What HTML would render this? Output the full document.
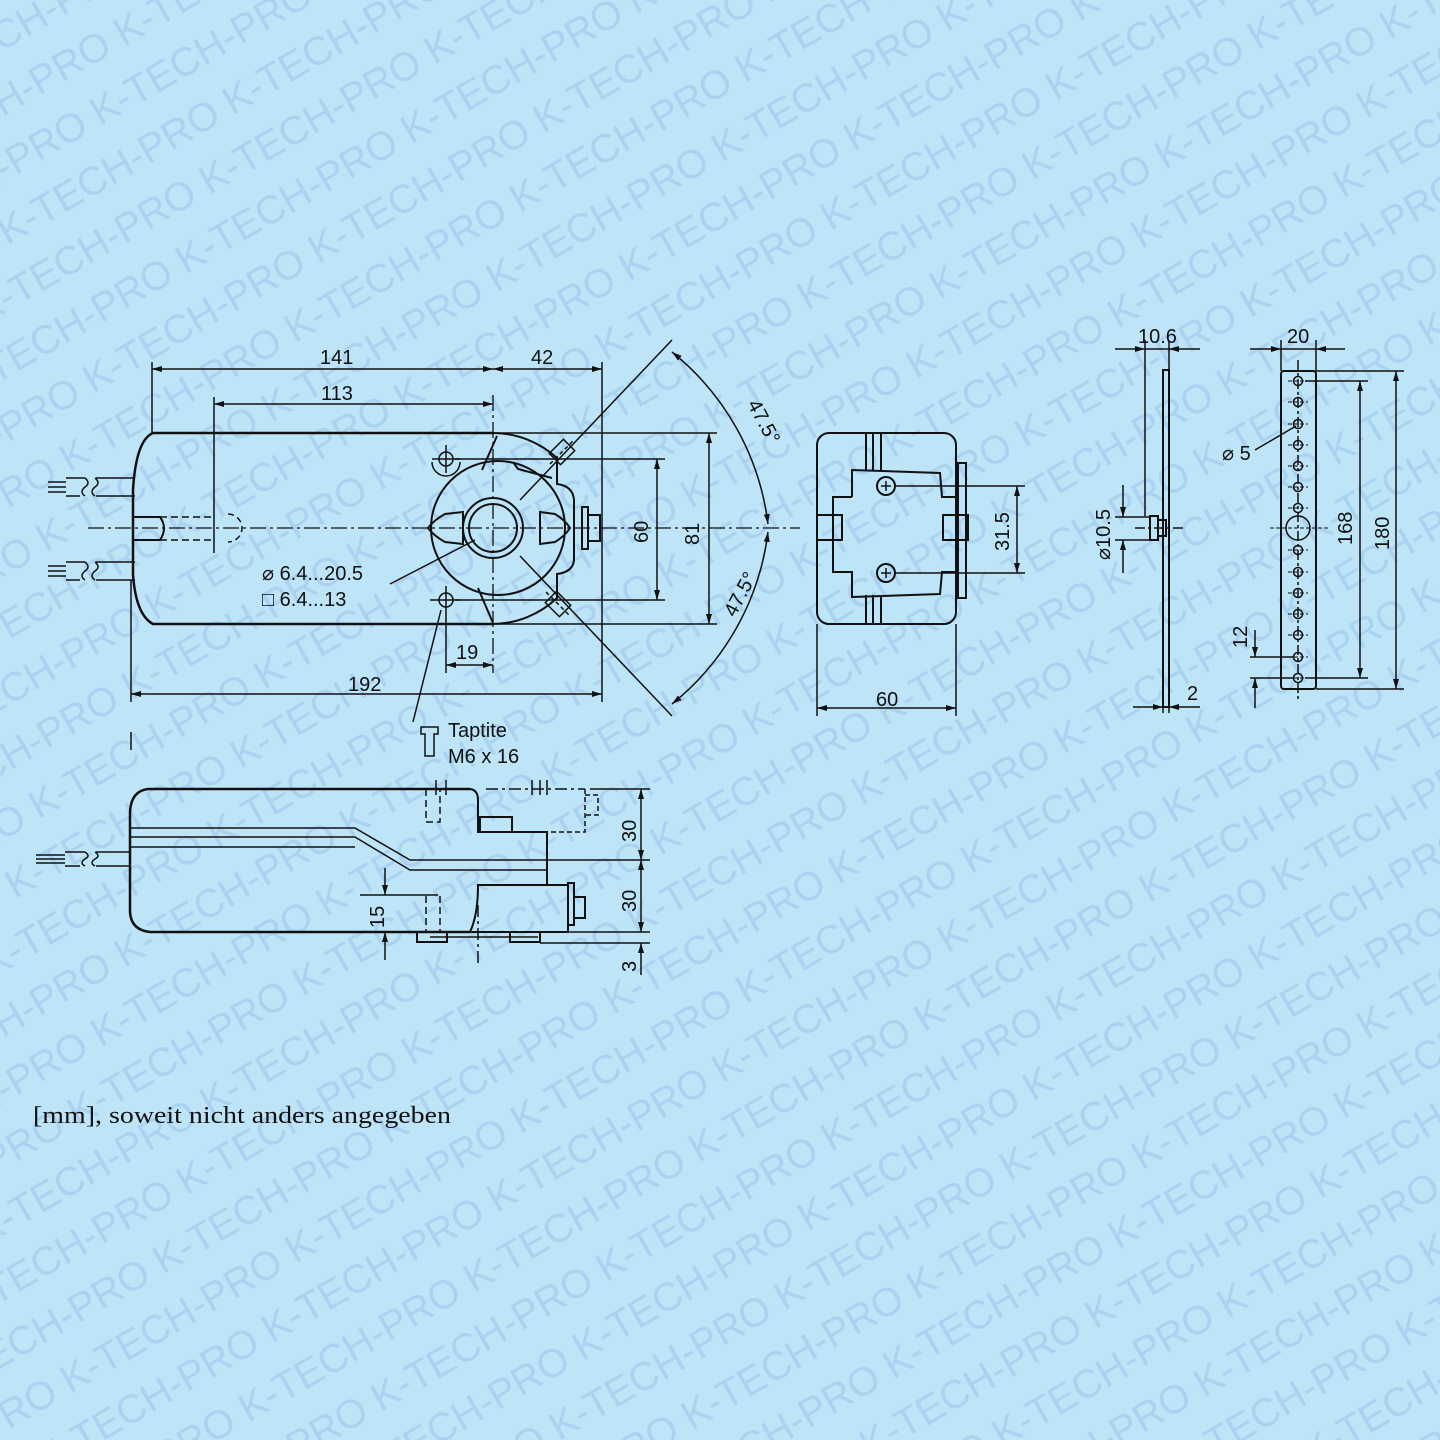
<!DOCTYPE html>
<html><head><meta charset="utf-8"><style>
html,body{margin:0;padding:0;background:#bde4f7;width:1440px;height:1440px;overflow:hidden;}
svg{display:block;}
</style></head><body>
<svg width="1440" height="1440" viewBox="0 0 1440 1440" xmlns="http://www.w3.org/2000/svg">
<defs>
<marker id="a" viewBox="0 0 10 10" refX="10" refY="5" markerWidth="10" markerHeight="10" orient="auto-start-reverse" markerUnits="userSpaceOnUse"><path d="M0,2 L10,5 L0,8 Z" fill="#111"/></marker>
</defs>
<rect width="1440" height="1440" fill="#bde4f7"/>
<g fill="#abd3f1" font-family="Liberation Sans, sans-serif" font-size="40" transform="rotate(-30 720 720)">
<text x="-700" y="-560">K-TECH-PRO K-TECH-PRO K-TECH-PRO K-TECH-PRO K-TECH-PRO K-TECH-PRO K-TECH-PRO K-TECH-PRO K-TECH-PRO K-TECH-PRO</text>
<text x="-760" y="-503">K-TECH-PRO K-TECH-PRO K-TECH-PRO K-TECH-PRO K-TECH-PRO K-TECH-PRO K-TECH-PRO K-TECH-PRO K-TECH-PRO K-TECH-PRO</text>
<text x="-820" y="-446">K-TECH-PRO K-TECH-PRO K-TECH-PRO K-TECH-PRO K-TECH-PRO K-TECH-PRO K-TECH-PRO K-TECH-PRO K-TECH-PRO K-TECH-PRO</text>
<text x="-700" y="-389">K-TECH-PRO K-TECH-PRO K-TECH-PRO K-TECH-PRO K-TECH-PRO K-TECH-PRO K-TECH-PRO K-TECH-PRO K-TECH-PRO K-TECH-PRO</text>
<text x="-760" y="-332">K-TECH-PRO K-TECH-PRO K-TECH-PRO K-TECH-PRO K-TECH-PRO K-TECH-PRO K-TECH-PRO K-TECH-PRO K-TECH-PRO K-TECH-PRO</text>
<text x="-820" y="-275">K-TECH-PRO K-TECH-PRO K-TECH-PRO K-TECH-PRO K-TECH-PRO K-TECH-PRO K-TECH-PRO K-TECH-PRO K-TECH-PRO K-TECH-PRO</text>
<text x="-700" y="-218">K-TECH-PRO K-TECH-PRO K-TECH-PRO K-TECH-PRO K-TECH-PRO K-TECH-PRO K-TECH-PRO K-TECH-PRO K-TECH-PRO K-TECH-PRO</text>
<text x="-760" y="-161">K-TECH-PRO K-TECH-PRO K-TECH-PRO K-TECH-PRO K-TECH-PRO K-TECH-PRO K-TECH-PRO K-TECH-PRO K-TECH-PRO K-TECH-PRO</text>
<text x="-820" y="-104">K-TECH-PRO K-TECH-PRO K-TECH-PRO K-TECH-PRO K-TECH-PRO K-TECH-PRO K-TECH-PRO K-TECH-PRO K-TECH-PRO K-TECH-PRO</text>
<text x="-700" y="-47">K-TECH-PRO K-TECH-PRO K-TECH-PRO K-TECH-PRO K-TECH-PRO K-TECH-PRO K-TECH-PRO K-TECH-PRO K-TECH-PRO K-TECH-PRO</text>
<text x="-760" y="10">K-TECH-PRO K-TECH-PRO K-TECH-PRO K-TECH-PRO K-TECH-PRO K-TECH-PRO K-TECH-PRO K-TECH-PRO K-TECH-PRO K-TECH-PRO</text>
<text x="-820" y="67">K-TECH-PRO K-TECH-PRO K-TECH-PRO K-TECH-PRO K-TECH-PRO K-TECH-PRO K-TECH-PRO K-TECH-PRO K-TECH-PRO K-TECH-PRO</text>
<text x="-700" y="124">K-TECH-PRO K-TECH-PRO K-TECH-PRO K-TECH-PRO K-TECH-PRO K-TECH-PRO K-TECH-PRO K-TECH-PRO K-TECH-PRO K-TECH-PRO</text>
<text x="-760" y="181">K-TECH-PRO K-TECH-PRO K-TECH-PRO K-TECH-PRO K-TECH-PRO K-TECH-PRO K-TECH-PRO K-TECH-PRO K-TECH-PRO K-TECH-PRO</text>
<text x="-820" y="238">K-TECH-PRO K-TECH-PRO K-TECH-PRO K-TECH-PRO K-TECH-PRO K-TECH-PRO K-TECH-PRO K-TECH-PRO K-TECH-PRO K-TECH-PRO</text>
<text x="-700" y="295">K-TECH-PRO K-TECH-PRO K-TECH-PRO K-TECH-PRO K-TECH-PRO K-TECH-PRO K-TECH-PRO K-TECH-PRO K-TECH-PRO K-TECH-PRO</text>
<text x="-760" y="352">K-TECH-PRO K-TECH-PRO K-TECH-PRO K-TECH-PRO K-TECH-PRO K-TECH-PRO K-TECH-PRO K-TECH-PRO K-TECH-PRO K-TECH-PRO</text>
<text x="-820" y="409">K-TECH-PRO K-TECH-PRO K-TECH-PRO K-TECH-PRO K-TECH-PRO K-TECH-PRO K-TECH-PRO K-TECH-PRO K-TECH-PRO K-TECH-PRO</text>
<text x="-700" y="466">K-TECH-PRO K-TECH-PRO K-TECH-PRO K-TECH-PRO K-TECH-PRO K-TECH-PRO K-TECH-PRO K-TECH-PRO K-TECH-PRO K-TECH-PRO</text>
<text x="-760" y="523">K-TECH-PRO K-TECH-PRO K-TECH-PRO K-TECH-PRO K-TECH-PRO K-TECH-PRO K-TECH-PRO K-TECH-PRO K-TECH-PRO K-TECH-PRO</text>
<text x="-820" y="580">K-TECH-PRO K-TECH-PRO K-TECH-PRO K-TECH-PRO K-TECH-PRO K-TECH-PRO K-TECH-PRO K-TECH-PRO K-TECH-PRO K-TECH-PRO</text>
<text x="-700" y="637">K-TECH-PRO K-TECH-PRO K-TECH-PRO K-TECH-PRO K-TECH-PRO K-TECH-PRO K-TECH-PRO K-TECH-PRO K-TECH-PRO K-TECH-PRO</text>
<text x="-760" y="694">K-TECH-PRO K-TECH-PRO K-TECH-PRO K-TECH-PRO K-TECH-PRO K-TECH-PRO K-TECH-PRO K-TECH-PRO K-TECH-PRO K-TECH-PRO</text>
<text x="-820" y="751">K-TECH-PRO K-TECH-PRO K-TECH-PRO K-TECH-PRO K-TECH-PRO K-TECH-PRO K-TECH-PRO K-TECH-PRO K-TECH-PRO K-TECH-PRO</text>
<text x="-700" y="808">K-TECH-PRO K-TECH-PRO K-TECH-PRO K-TECH-PRO K-TECH-PRO K-TECH-PRO K-TECH-PRO K-TECH-PRO K-TECH-PRO K-TECH-PRO</text>
<text x="-760" y="865">K-TECH-PRO K-TECH-PRO K-TECH-PRO K-TECH-PRO K-TECH-PRO K-TECH-PRO K-TECH-PRO K-TECH-PRO K-TECH-PRO K-TECH-PRO</text>
<text x="-820" y="922">K-TECH-PRO K-TECH-PRO K-TECH-PRO K-TECH-PRO K-TECH-PRO K-TECH-PRO K-TECH-PRO K-TECH-PRO K-TECH-PRO K-TECH-PRO</text>
<text x="-700" y="979">K-TECH-PRO K-TECH-PRO K-TECH-PRO K-TECH-PRO K-TECH-PRO K-TECH-PRO K-TECH-PRO K-TECH-PRO K-TECH-PRO K-TECH-PRO</text>
<text x="-760" y="1036">K-TECH-PRO K-TECH-PRO K-TECH-PRO K-TECH-PRO K-TECH-PRO K-TECH-PRO K-TECH-PRO K-TECH-PRO K-TECH-PRO K-TECH-PRO</text>
<text x="-820" y="1093">K-TECH-PRO K-TECH-PRO K-TECH-PRO K-TECH-PRO K-TECH-PRO K-TECH-PRO K-TECH-PRO K-TECH-PRO K-TECH-PRO K-TECH-PRO</text>
<text x="-700" y="1150">K-TECH-PRO K-TECH-PRO K-TECH-PRO K-TECH-PRO K-TECH-PRO K-TECH-PRO K-TECH-PRO K-TECH-PRO K-TECH-PRO K-TECH-PRO</text>
<text x="-760" y="1207">K-TECH-PRO K-TECH-PRO K-TECH-PRO K-TECH-PRO K-TECH-PRO K-TECH-PRO K-TECH-PRO K-TECH-PRO K-TECH-PRO K-TECH-PRO</text>
<text x="-820" y="1264">K-TECH-PRO K-TECH-PRO K-TECH-PRO K-TECH-PRO K-TECH-PRO K-TECH-PRO K-TECH-PRO K-TECH-PRO K-TECH-PRO K-TECH-PRO</text>
<text x="-700" y="1321">K-TECH-PRO K-TECH-PRO K-TECH-PRO K-TECH-PRO K-TECH-PRO K-TECH-PRO K-TECH-PRO K-TECH-PRO K-TECH-PRO K-TECH-PRO</text>
<text x="-760" y="1378">K-TECH-PRO K-TECH-PRO K-TECH-PRO K-TECH-PRO K-TECH-PRO K-TECH-PRO K-TECH-PRO K-TECH-PRO K-TECH-PRO K-TECH-PRO</text>
<text x="-820" y="1435">K-TECH-PRO K-TECH-PRO K-TECH-PRO K-TECH-PRO K-TECH-PRO K-TECH-PRO K-TECH-PRO K-TECH-PRO K-TECH-PRO K-TECH-PRO</text>
<text x="-700" y="1492">K-TECH-PRO K-TECH-PRO K-TECH-PRO K-TECH-PRO K-TECH-PRO K-TECH-PRO K-TECH-PRO K-TECH-PRO K-TECH-PRO K-TECH-PRO</text>
<text x="-760" y="1549">K-TECH-PRO K-TECH-PRO K-TECH-PRO K-TECH-PRO K-TECH-PRO K-TECH-PRO K-TECH-PRO K-TECH-PRO K-TECH-PRO K-TECH-PRO</text>
<text x="-820" y="1606">K-TECH-PRO K-TECH-PRO K-TECH-PRO K-TECH-PRO K-TECH-PRO K-TECH-PRO K-TECH-PRO K-TECH-PRO K-TECH-PRO K-TECH-PRO</text>
<text x="-700" y="1663">K-TECH-PRO K-TECH-PRO K-TECH-PRO K-TECH-PRO K-TECH-PRO K-TECH-PRO K-TECH-PRO K-TECH-PRO K-TECH-PRO K-TECH-PRO</text>
<text x="-760" y="1720">K-TECH-PRO K-TECH-PRO K-TECH-PRO K-TECH-PRO K-TECH-PRO K-TECH-PRO K-TECH-PRO K-TECH-PRO K-TECH-PRO K-TECH-PRO</text>
<text x="-820" y="1777">K-TECH-PRO K-TECH-PRO K-TECH-PRO K-TECH-PRO K-TECH-PRO K-TECH-PRO K-TECH-PRO K-TECH-PRO K-TECH-PRO K-TECH-PRO</text>
<text x="-700" y="1834">K-TECH-PRO K-TECH-PRO K-TECH-PRO K-TECH-PRO K-TECH-PRO K-TECH-PRO K-TECH-PRO K-TECH-PRO K-TECH-PRO K-TECH-PRO</text>
<text x="-760" y="1891">K-TECH-PRO K-TECH-PRO K-TECH-PRO K-TECH-PRO K-TECH-PRO K-TECH-PRO K-TECH-PRO K-TECH-PRO K-TECH-PRO K-TECH-PRO</text>
<text x="-820" y="1948">K-TECH-PRO K-TECH-PRO K-TECH-PRO K-TECH-PRO K-TECH-PRO K-TECH-PRO K-TECH-PRO K-TECH-PRO K-TECH-PRO K-TECH-PRO</text>
<text x="-700" y="2005">K-TECH-PRO K-TECH-PRO K-TECH-PRO K-TECH-PRO K-TECH-PRO K-TECH-PRO K-TECH-PRO K-TECH-PRO K-TECH-PRO K-TECH-PRO</text>
</g>

<g fill="none" stroke="#111" stroke-width="1.5">
<!-- ===== TOP VIEW ===== -->
<path d="M493,433 L153,433 Q136,440 133,490 L133,575 Q136,615 153,624 L493,624" stroke-width="2.5"/>
<path d="M493,433 A95,95 0 0 1 557,458 L557,484 Q573,486 574,500 L574,560 Q573,572 557,574 L557,598 A95,95 0 0 1 493,624" stroke-width="2"/>
<path d="M497,436 L482,470 M478,588 L493,623" stroke-width="2"/>
<circle cx="498" cy="528" r="67" stroke-width="2"/>
<path d="M513,462 L518,469 L552,478" stroke-width="2"/>
<circle cx="493" cy="528" r="30" stroke-width="2"/>
<circle cx="493" cy="528" r="24" stroke-width="2"/>
<path d="M463,512 L445,514 Q434,520 428,528 Q434,536 445,542 L463,544 Z" stroke-width="2"/>
<path d="M540,512 L555,514 Q565,520 570,528 Q565,536 555,542 L540,544 Z" stroke-width="2"/>
<rect x="582" y="507" width="6" height="42" stroke-width="2"/>
<rect x="588" y="515" width="12" height="26" stroke-width="2"/>
<circle cx="446" cy="459" r="7"/><circle cx="446" cy="600" r="7"/>
<path d="M432,462 A14,14 0 0 0 460,462"/>
<line x1="446" y1="445" x2="446" y2="473"/><line x1="432" y1="459" x2="460" y2="459"/>
<line x1="446" y1="586" x2="446" y2="673"/><line x1="430" y1="600" x2="460" y2="600"/>
<g transform="rotate(-45 562 452)"><rect x="552" y="444" width="20" height="16"/><line x1="545" y1="452" x2="580" y2="452" stroke-dasharray="4 3"/></g>
<g transform="rotate(45 558 604)"><rect x="548" y="596" width="20" height="16"/><line x1="541" y1="604" x2="576" y2="604" stroke-dasharray="4 3"/></g>
<path d="M133,517 L160,517 Q168,528 160,540 L133,540" stroke-width="2"/>
<path d="M160,517 L215,517 M160,540 L215,540" stroke-dasharray="7 4"/>
<path d="M228,514 A14,14 0 0 1 228,542" stroke-dasharray="6 4"/>
<path d="M96,478 L135,478 M96,496 L135,496 M96,562 L135,562 M96,580 L135,580"/>
<path d="M66,478 L85,478 M66,496 L80,496 M66,562 L85,562 M66,580 L80,580"/>
<path d="M85,478 q6,5 0,9 q-6,5 0,9 M95,478 q6,5 0,9 q-6,5 0,9 M85,562 q6,5 0,9 q-6,5 0,9 M95,562 q6,5 0,9 q-6,5 0,9"/>
<path d="M48,482 L66,482 M48,487 L66,487 M48,492 L66,492 M48,566 L66,566 M48,571 L66,571 M48,576 L66,576"/>
<line x1="88" y1="528" x2="800" y2="528" stroke-dasharray="16 4 3 4" stroke-width="1.3"/>
<line x1="493" y1="395" x2="493" y2="673" stroke-dasharray="16 4 3 4" stroke-width="1.3"/>
<line x1="152" y1="362" x2="152" y2="433"/>
<line x1="214" y1="397" x2="214" y2="553"/>
<line x1="602" y1="362" x2="602" y2="702"/>
<line x1="131" y1="580" x2="131" y2="702"/>
<line x1="455" y1="459" x2="665" y2="459"/>
<line x1="455" y1="600" x2="665" y2="600"/>
<line x1="497" y1="433" x2="717" y2="433"/>
<line x1="497" y1="624" x2="717" y2="624"/>
<line x1="152" y1="369" x2="493" y2="369" marker-start="url(#a)" marker-end="url(#a)"/>
<line x1="493" y1="369" x2="602" y2="369" marker-start="url(#a)" marker-end="url(#a)"/>
<line x1="214" y1="404" x2="493" y2="404" marker-start="url(#a)" marker-end="url(#a)"/>
<line x1="131" y1="694" x2="602" y2="694" marker-start="url(#a)" marker-end="url(#a)"/>
<line x1="446" y1="665" x2="493" y2="665" marker-start="url(#a)" marker-end="url(#a)"/>
<line x1="657" y1="459" x2="657" y2="600" marker-start="url(#a)" marker-end="url(#a)"/>
<line x1="709" y1="433" x2="709" y2="624" marker-start="url(#a)" marker-end="url(#a)"/>
<line x1="520" y1="500" x2="672" y2="340"/>
<line x1="520" y1="556" x2="672" y2="716"/>
<path d="M672,352 A262,262 0 0 1 768,524" marker-start="url(#a)" marker-end="url(#a)"/>
<path d="M768,532 A262,262 0 0 1 672,704" marker-start="url(#a)" marker-end="url(#a)"/>
<line x1="390" y1="584" x2="475" y2="540"/>
<line x1="441" y1="610" x2="413" y2="722"/>
<path d="M421,727 L438,727 L438,734 L434,734 L434,756 L425,756 L425,734 L421,734 Z"/>
<line x1="131" y1="732" x2="131" y2="750"/>

<!-- ===== SIDE VIEW ===== -->
<path d="M470,789 L148,789 Q131,791 130,812 L130,912 Q131,930 150,932 L470,932" stroke-width="2.5"/>
<path d="M470,789 Q478,790 478,800 L478,832 L547,832 L547,885" stroke-width="2"/>
<rect x="480" y="817" width="32" height="15" stroke-width="2"/>
<path d="M547,885 L568,885 L568,932 L470,932 Q478,915 478,885 L547,885" stroke-width="2"/>
<rect x="568" y="883" width="6" height="42" stroke-width="2"/>
<rect x="574" y="897" width="11" height="21" stroke-width="2"/>
<path d="M130,828 L355,828 L410,860 L547,860 L650,860"/>
<path d="M130,837 L355,837 L410,870 L547,870"/>
<path d="M130,847 L355,847"/>
<rect x="417" y="932" width="30" height="10" stroke-width="2"/>
<rect x="510" y="932" width="30" height="10" stroke-width="2"/>
<line x1="430" y1="937" x2="538" y2="937"/>
<path d="M426,789 L426,822 L440,822 L440,789" stroke-dasharray="7 4"/>
<path d="M426,896 L426,932 M440,896 L440,932" stroke-dasharray="7 4"/>
<line x1="360" y1="895" x2="438" y2="895"/>
<line x1="385" y1="868" x2="385" y2="895" marker-end="url(#a)"/>
<line x1="385" y1="960" x2="385" y2="932" marker-end="url(#a)"/>
<line x1="478" y1="905" x2="478" y2="966" stroke-dasharray="12 4 3 4"/>
<path d="M486,789 L585,789" stroke-dasharray="12 4 3 4"/>
<path d="M585,789 L585,832 L547,832 M585,795 L598,795 L598,815 L585,815" stroke-dasharray="5 3"/>
<path d="M436,780 L436,795 M446,780 L446,795 M532,780 L532,795 M540,780 L540,795 M547,780 L547,795"/>
<line x1="590" y1="789" x2="650" y2="789"/>
<line x1="568" y1="932" x2="650" y2="932"/>
<line x1="540" y1="943" x2="650" y2="943"/>
<line x1="641" y1="789" x2="641" y2="860" marker-start="url(#a)" marker-end="url(#a)"/>
<line x1="641" y1="860" x2="641" y2="932" marker-start="url(#a)" marker-end="url(#a)"/>
<line x1="641" y1="975" x2="641" y2="943" marker-end="url(#a)"/>
<path d="M96,852 L130,852 M96,866 L130,866 M65,852 L85,852 M65,866 L80,866 M85,852 q6,4 0,7 q-6,4 0,7 M95,852 q6,4 0,7 q-6,4 0,7 M36,855 L65,855 M36,859 L65,859 M36,863 L65,863"/>

<!-- ===== END VIEW ===== -->
<rect x="817" y="433" width="139" height="191" rx="12" stroke-width="2"/>
<path d="M866,433 L866,470 M873,433 L873,470 M881,433 L881,470 M866,595 L866,624 M873,595 L873,624 M881,595 L881,624" stroke-width="2"/>
<path d="M852,497 L852,470 L940,473 L942,497 L957,497 M852,497 L833,497 L833,572 L852,572 L852,597 L940,594 L942,572 L957,572" stroke-width="2"/>
<rect x="817" y="515" width="25" height="25" stroke-width="2"/>
<rect x="943" y="515" width="25" height="25" stroke-width="2"/>
<rect x="958" y="463" width="8" height="135" stroke-width="2"/>
<circle cx="886" cy="486" r="9" stroke-width="2"/><path d="M881,486 L891,486 M886,481 L886,491"/>
<circle cx="886" cy="573" r="9" stroke-width="2"/><path d="M881,573 L891,573 M886,568 L886,578"/>
<line x1="895" y1="486" x2="1025" y2="486"/>
<line x1="895" y1="573" x2="1025" y2="573"/>
<line x1="1017" y1="486" x2="1017" y2="573" marker-start="url(#a)" marker-end="url(#a)"/>
<line x1="817" y1="624" x2="817" y2="716"/>
<line x1="956" y1="624" x2="956" y2="716"/>
<line x1="817" y1="708" x2="956" y2="708" marker-start="url(#a)" marker-end="url(#a)"/>

<!-- ===== BRACKET SIDE ===== -->
<rect x="1163" y="370" width="6" height="337" stroke-width="2"/>
<rect x="1150" y="516" width="8" height="24" stroke-width="2"/>
<rect x="1158" y="520" width="8" height="16" stroke-width="2"/>
<line x1="1135" y1="528" x2="1185" y2="528" stroke-dasharray="10 3 3 3"/>
<line x1="1145" y1="340" x2="1145" y2="516"/>
<line x1="1169" y1="340" x2="1169" y2="370"/>
<line x1="1115" y1="349" x2="1145" y2="349" marker-end="url(#a)"/>
<line x1="1200" y1="349" x2="1169" y2="349" marker-end="url(#a)"/>
<line x1="1145" y1="349" x2="1169" y2="349"/>
<line x1="1115" y1="517" x2="1150" y2="517"/>
<line x1="1115" y1="540" x2="1150" y2="540"/>
<line x1="1123" y1="485" x2="1123" y2="517" marker-end="url(#a)"/>
<line x1="1123" y1="573" x2="1123" y2="540" marker-end="url(#a)"/>
<line x1="1163" y1="707" x2="1163" y2="713"/>
<line x1="1169" y1="707" x2="1169" y2="713"/>
<line x1="1133" y1="707" x2="1163" y2="707" marker-end="url(#a)"/>
<line x1="1200" y1="707" x2="1169" y2="707" marker-end="url(#a)"/>

<!-- ===== BRACKET FRONT ===== -->
<rect x="1281" y="371" width="35" height="318" rx="3" stroke-width="2"/>
<line x1="1298" y1="360" x2="1298" y2="700" stroke-dasharray="10 3 3 3"/>
<g stroke-width="1.5">
<circle cx="1298" cy="381" r="4.5"/><circle cx="1298" cy="402" r="4.5"/><circle cx="1298" cy="424" r="4.5"/><circle cx="1298" cy="445" r="4.5"/><circle cx="1298" cy="466" r="4.5"/><circle cx="1298" cy="487" r="4.5"/><circle cx="1298" cy="508" r="4.5"/>
<circle cx="1298" cy="528" r="12"/>
<circle cx="1298" cy="550" r="4.5"/><circle cx="1298" cy="572" r="4.5"/><circle cx="1298" cy="593" r="4.5"/><circle cx="1298" cy="614" r="4.5"/><circle cx="1298" cy="635" r="4.5"/><circle cx="1298" cy="657" r="4.5"/><circle cx="1298" cy="678" r="4.5"/>
</g>
<path d="M1288,381 H1308 M1288,402 H1308 M1288,424 H1308 M1288,445 H1308 M1288,466 H1308 M1288,487 H1308 M1288,508 H1308 M1270,528 H1330 M1288,550 H1308 M1288,572 H1308 M1288,593 H1308 M1288,614 H1308 M1288,635 H1308 M1288,657 H1308 M1288,678 H1308" stroke-dasharray="4 2" stroke-width="1"/>
<line x1="1281" y1="340" x2="1281" y2="371"/>
<line x1="1316" y1="340" x2="1316" y2="371"/>
<line x1="1250" y1="349" x2="1281" y2="349" marker-end="url(#a)"/>
<line x1="1345" y1="349" x2="1316" y2="349" marker-end="url(#a)"/>
<line x1="1281" y1="349" x2="1316" y2="349"/>
<line x1="1305" y1="381" x2="1368" y2="381"/>
<line x1="1305" y1="678" x2="1368" y2="678"/>
<line x1="1316" y1="371" x2="1404" y2="371"/>
<line x1="1316" y1="689" x2="1404" y2="689"/>
<line x1="1360" y1="381" x2="1360" y2="678" marker-start="url(#a)" marker-end="url(#a)"/>
<line x1="1396" y1="371" x2="1396" y2="689" marker-start="url(#a)" marker-end="url(#a)"/>
<line x1="1250" y1="657" x2="1293" y2="657"/>
<line x1="1250" y1="678" x2="1293" y2="678"/>
<line x1="1255" y1="630" x2="1255" y2="657" marker-end="url(#a)"/>
<line x1="1255" y1="708" x2="1255" y2="678" marker-end="url(#a)"/>
<line x1="1255" y1="450" x2="1296" y2="426"/>
</g>

<g font-family="Liberation Sans, sans-serif" font-size="20" fill="#111">
<text x="320" y="364">141</text>
<text x="531" y="364">42</text>
<text x="321" y="400">113</text>
<text x="348" y="691">192</text>
<text x="456" y="659">19</text>
<text x="262" y="580">⌀ 6.4...20.5</text>
<text x="262" y="606">□ 6.4...13</text>
<text x="448" y="737">Taptite</text>
<text x="448" y="763">M6 x 16</text>
<text x="876" y="706">60</text>
<text x="1138" y="343">10.6</text>
<text x="1287" y="343">20</text>
<text x="1187" y="700">2</text>
<text x="1222" y="460">⌀ 5</text>
<text transform="translate(648,543) rotate(-90)">60</text>
<text transform="translate(699,545) rotate(-90)">81</text>
<text transform="translate(1009,551) rotate(-90)">31.5</text>
<text transform="translate(1110,560) rotate(-90)">⌀10.5</text>
<text transform="translate(1352,545) rotate(-90)">168</text>
<text transform="translate(1389,550) rotate(-90)">180</text>
<text transform="translate(1247,648) rotate(-90)">12</text>
<text transform="translate(636,842) rotate(-90)">30</text>
<text transform="translate(636,912) rotate(-90)">30</text>
<text transform="translate(636,972) rotate(-90)">3</text>
<text transform="translate(384,928) rotate(-90)">15</text>
<text transform="translate(747,404) rotate(62)">47.5°</text>
<text transform="translate(735,618) rotate(-62)">47.5°</text>
</g>
<text x="33" y="1123" font-family="Liberation Serif, serif" font-size="24" fill="#111" textLength="418" lengthAdjust="spacingAndGlyphs">[mm], soweit nicht anders angegeben</text>
</svg>
</body></html>
